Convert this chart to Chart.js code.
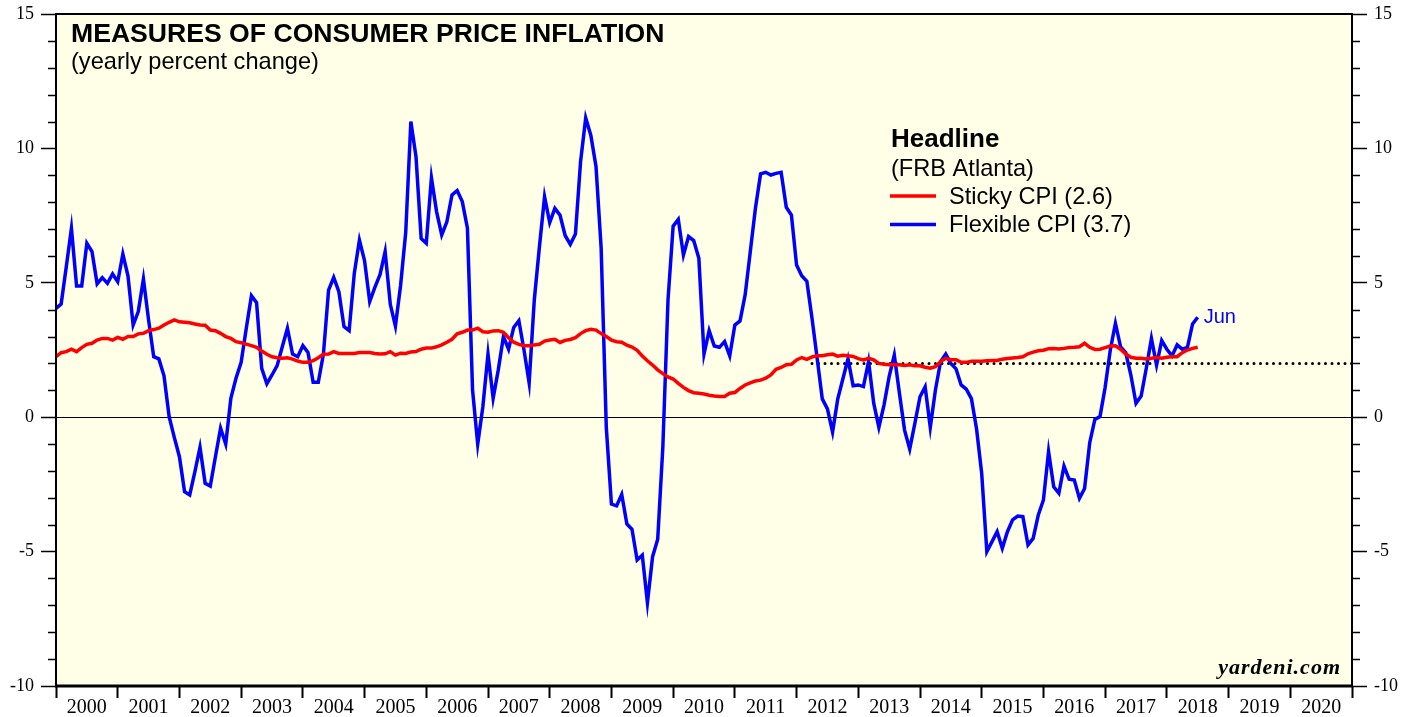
<!DOCTYPE html>
<html lang="en">
<head>
<meta charset="UTF-8">
<title>Measures of Consumer Price Inflation</title>
<script src="https://cdn.jsdelivr.net/npm/chart.js"></script>
<style>
    html, body { margin: 0; padding: 0; background: #fff; }
    #wrap { width: 1419px; height: 717px; }
</style>
</head>
<body>
<div id="wrap"><canvas id="cpiChart" width="1419" height="717"></canvas></div>
<script>
// monthly readings, first one sits on the start of 2000, last one is Jun 2018
const startYear = 2000;

const flexible = [
    4.05, 4.21, 5.6, 7.03, 4.88, 4.88, 6.47, 6.16, 4.96, 5.19, 4.98, 5.33,
    5.04, 6.07, 5.25, 3.43, 3.93, 5.14, 3.62, 2.25, 2.17, 1.54, 0.02, -0.75,
    -1.47, -2.77, -2.89, -2.03, -1.12, -2.46, -2.56, -1.47, -0.41, -1.0, 0.70, 1.45,
    2.04, 3.31, 4.52, 4.26, 1.82, 1.24, 1.57, 1.92, 2.62, 3.31, 2.35, 2.25,
    2.66, 2.41, 1.30, 1.30, 2.35, 4.73, 5.20, 4.67, 3.37, 3.22, 5.35, 6.59,
    5.82, 4.30, 4.83, 5.30, 6.16, 4.20, 3.39, 4.90, 6.87, 11.0, 9.69, 6.65,
    6.47, 8.91, 7.65, 6.78, 7.27, 8.27, 8.43, 8.02, 7.03, 1.01, -1.0, 0.39,
    2.35, 0.70, 1.76, 3.0, 2.53, 3.34, 3.59, 2.50, 1.28, 4.36, 6.34, 8.20,
    7.24, 7.77, 7.52, 6.76, 6.43, 6.81, 9.51, 11.13, 10.48, 9.33, 6.3, -0.38,
    -3.23, -3.30, -2.87, -3.97, -4.17, -5.31, -5.13, -6.90, -5.19, -4.54, -1.10, 4.36,
    7.11, 7.36, 6.03, 6.72, 6.57, 5.91, 2.35, 3.22, 2.65, 2.60, 2.81, 2.28,
    3.43, 3.58, 4.55, 6.16, 7.77, 9.05, 9.11, 9.01, 9.07, 9.11, 7.81, 7.52,
    5.66, 5.26, 5.06, 3.68, 2.19, 0.68, 0.31, -0.55, 0.67, 1.42, 2.17, 1.17,
    1.20, 1.14, 2.07, 0.52, -0.38, 0.45, 1.51, 2.31, 0.89, -0.48, -1.19, -0.23,
    0.76, 1.13, -0.38, 1.01, 2.07, 2.35, 2.0, 1.80, 1.20, 1.04, 0.69, -0.44,
    -2.1, -5.0, -4.63, -4.26, -4.88, -4.26, -3.82, -3.68, -3.70, -4.75, -4.51, -3.64,
    -3.08, -1.28, -2.59, -2.83, -1.82, -2.31, -2.34, -3.02, -2.65, -0.95, -0.08, 0.02,
    1.11, 2.50, 3.49, 2.62, 2.40, 1.57, 0.52, 0.79, 1.82, 2.93, 1.94, 2.85,
    2.53, 2.28, 2.69, 2.53, 2.60, 3.47, 3.72
];

const sticky = [
    2.25, 2.40, 2.44, 2.53, 2.44, 2.59, 2.71, 2.75, 2.87, 2.93, 2.93, 2.87,
    2.97, 2.90, 3.00, 3.00, 3.10, 3.12, 3.22, 3.26, 3.31, 3.43, 3.53, 3.62,
    3.55, 3.53, 3.51, 3.47, 3.43, 3.42, 3.24, 3.22, 3.12, 3.00, 2.93, 2.81,
    2.77, 2.72, 2.66, 2.60, 2.46, 2.34, 2.25, 2.21, 2.19, 2.21, 2.16, 2.09,
    2.04, 2.04, 2.10, 2.21, 2.34, 2.35, 2.44, 2.37, 2.37, 2.37, 2.37, 2.41,
    2.41, 2.41, 2.37, 2.35, 2.36, 2.44, 2.31, 2.38, 2.37, 2.43, 2.44, 2.53,
    2.57, 2.57, 2.62, 2.69, 2.79, 2.90, 3.10, 3.16, 3.24, 3.24, 3.31, 3.18,
    3.16, 3.21, 3.22, 3.16, 2.96, 2.79, 2.71, 2.66, 2.66, 2.69, 2.71, 2.83,
    2.87, 2.90, 2.78, 2.86, 2.89, 2.96, 3.11, 3.22, 3.27, 3.24, 3.11, 3.00,
    2.87, 2.81, 2.79, 2.68, 2.61, 2.49, 2.28, 2.10, 1.94, 1.76, 1.62, 1.50,
    1.42, 1.26, 1.11, 0.99, 0.91, 0.89, 0.86, 0.82, 0.79, 0.77, 0.77, 0.89,
    0.92, 1.07, 1.20, 1.28, 1.35, 1.38, 1.45, 1.57, 1.78, 1.85, 1.95, 1.97,
    2.13, 2.22, 2.15, 2.24, 2.29, 2.29, 2.32, 2.35, 2.27, 2.30, 2.29, 2.26,
    2.18, 2.13, 2.19, 2.13, 2.00, 1.97, 1.95, 1.95, 1.95, 1.92, 1.95, 1.91,
    1.91, 1.86, 1.82, 1.88, 2.07, 2.19, 2.14, 2.14, 2.04, 2.04, 2.08, 2.08,
    2.08, 2.10, 2.11, 2.11, 2.16, 2.18, 2.20, 2.22, 2.25, 2.36, 2.42, 2.47,
    2.49, 2.55, 2.56, 2.54, 2.56, 2.59, 2.60, 2.62, 2.75, 2.60, 2.52, 2.53,
    2.59, 2.65, 2.66, 2.53, 2.35, 2.23, 2.19, 2.19, 2.17, 2.19, 2.23, 2.19,
    2.23, 2.25, 2.25, 2.40, 2.50, 2.56, 2.60
];

const stickyLabel = 'Sticky CPI (2.6)';
const flexibleLabel = 'Flexible CPI (3.7)';
const yearLabels = ['2000', '2001', '2002', '2003', '2004', '2005', '2006', '2007', '2008', '2009', '2010',
                    '2011', '2012', '2013', '2014', '2015', '2016', '2017', '2018', '2019', '2020'];
const yTicks = [-10, -5, 0, 5, 10, 15];
const targetRate = 2;        // dotted line
const targetFrom = 2012.25;
const lastMonth = 'Jun';

const toPoints = arr => arr.map((v, i) => ({ x: startYear + i / 12, y: v }));
const endYear = startYear + yearLabels.length;

const serif = '"Liberation Serif", "Times New Roman", serif';
const sans = '"Liberation Sans", Arial, Helvetica, sans-serif';

// background, zero line, frame, minor ticks and all the text inside the plot
const decorations = {
    id: 'decorations',
    beforeDraw(chart) {
        const { ctx, chartArea: a } = chart;
        ctx.save();
        ctx.fillStyle = '#fffee6';
        ctx.fillRect(a.left, a.top, a.right - a.left, a.bottom - a.top);
        const y0 = Math.round(chart.scales.y.getPixelForValue(0)) + 0.5;
        ctx.strokeStyle = '#000';
        ctx.lineWidth = 1;
        ctx.beginPath();
        ctx.moveTo(a.left, y0);
        ctx.lineTo(a.right, y0);
        ctx.stroke();
        ctx.restore();
    },
    afterDatasetsDraw(chart) {
        const { ctx, chartArea: a } = chart;
        const ys = chart.scales.y;
        ctx.save();

        // frame
        ctx.strokeStyle = '#000';
        ctx.lineWidth = 2;
        ctx.strokeRect(a.left, a.top, a.right - a.left, a.bottom - a.top);
        ctx.lineWidth = 3;
        ctx.beginPath();
        ctx.moveTo(a.left - 1, a.bottom);
        ctx.lineTo(a.right + 1, a.bottom);
        ctx.stroke();

        // minor ticks on both sides
        ctx.lineWidth = 1.5;
        for (let v = ys.min; v <= ys.max; v++) {
            if (v % 5 === 0) continue;
            const y = Math.round(ys.getPixelForValue(v)) + 0.5;
            ctx.beginPath();
            ctx.moveTo(a.left - 8, y);
            ctx.lineTo(a.left, y);
            ctx.moveTo(a.right, y);
            ctx.lineTo(a.right + 8, y);
            ctx.stroke();
        }

        // title
        ctx.fillStyle = '#000';
        ctx.textAlign = 'left';
        ctx.textBaseline = 'alphabetic';
        ctx.font = 'bold 26.6px ' + sans;
        ctx.fillText('MEASURES OF CONSUMER PRICE INFLATION', 71, 42);
        ctx.font = '23.6px ' + sans;
        ctx.fillText('(yearly percent change)', 71, 69);

        // legend
        ctx.font = 'bold 26px ' + sans;
        ctx.fillText('Headline', 891, 147);
        ctx.font = '23.6px ' + sans;
        ctx.fillText('(FRB Atlanta)', 891, 176);
        const rows = [
            [chart.data.datasets[1], 196, 203.5],
            [chart.data.datasets[0], 224.5, 232]
        ];
        rows.forEach(([ds, ly, ty]) => {
            ctx.strokeStyle = ds.borderColor;
            ctx.lineWidth = 3.5;
            ctx.beginPath();
            ctx.moveTo(890, ly);
            ctx.lineTo(936, ly);
            ctx.stroke();
            ctx.fillStyle = '#000';
            ctx.fillText(ds.label, 949, ty);
        });

        // last month tag
        const meta = chart.getDatasetMeta(0);
        const last = meta.data[meta.data.length - 1];
        ctx.fillStyle = '#0000ff';
        ctx.font = '20px ' + sans;
        ctx.textBaseline = 'middle';
        ctx.fillText(lastMonth, last.x + 6, last.y);

        // source
        ctx.fillStyle = '#000';
        ctx.textAlign = 'right';
        ctx.textBaseline = 'alphabetic';
        ctx.font = 'italic bold 22px ' + serif;
        ctx.letterSpacing = '1px';
        ctx.fillText('yardeni.com', 1341, 674);
        ctx.restore();
    }
};

function yAxis(position, width) {
    return {
        type: 'linear',
        position: position,
        min: -10,
        max: 15,
        afterBuildTicks: s => { s.ticks = yTicks.map(v => ({ value: v })); },
        afterFit: s => {
            s.width = width;
            // let the layout padding alone decide where the plot starts
            s.paddingTop = 0;
            s.paddingBottom = 0;
        },
        border: { display: false },
        grid: {
            drawOnChartArea: false,
            tickLength: 15,
            tickColor: '#000',
            tickWidth: 1.5
        },
        ticks: {
            padding: 7,
            color: '#000',
            font: { family: serif, size: 18 },
            callback: v => String(v)
        }
    };
}

new Chart(document.getElementById('cpiChart'), {
    type: 'line',
    data: {
        datasets: [
            {
                label: flexibleLabel,
                data: toPoints(flexible),
                borderColor: '#0000ff',
                borderWidth: 3.5,
                pointRadius: 0,
                tension: 0,
                order: 2
            },
            {
                label: stickyLabel,
                data: toPoints(sticky),
                borderColor: '#ff0000',
                borderWidth: 3.5,
                pointRadius: 0,
                tension: 0,
                order: 1
            },
            {
                label: 'target',
                data: [{ x: targetFrom, y: targetRate }, { x: endYear, y: targetRate }],
                borderColor: '#000',
                borderWidth: 3,
                borderDash: [0, 6.5],
                borderCapStyle: 'round',
                pointRadius: 0,
                order: 3
            }
        ]
    },
    options: {
        responsive: false,
        animation: false,
        layout: { padding: { top: 14, left: 0, right: 0, bottom: 0 } },
        plugins: {
            legend: { display: false },
            tooltip: { enabled: false }
        },
        scales: {
            x: {
                type: 'linear',
                min: startYear,
                max: endYear,
                afterBuildTicks: s => {
                    const t = [];
                    yearLabels.forEach((lab, k) => {
                        t.push({ value: startYear + k });
                        t.push({ value: startYear + k + 0.5 });
                    });
                    t.push({ value: endYear });
                    s.ticks = t;
                },
                afterFit: s => { s.height = 31; },
                border: { display: false },
                grid: {
                    drawOnChartArea: false,
                    tickLength: 12,
                    tickWidth: 2,
                    tickColor: c => Number.isInteger(c.tick.value) ? '#000' : 'rgba(0,0,0,0)'
                },
                ticks: {
                    autoSkip: false,
                    maxRotation: 0,
                    padding: -2,
                    color: '#000',
                    font: { family: serif, size: 20 },
                    callback: v => Number.isInteger(v) ? '' : yearLabels[Math.floor(v) - startYear]
                }
            },
            y: yAxis('left', 56),
            y2: yAxis('right', 67)
        }
    },
    plugins: [decorations]
});
</script>
</body>
</html>
